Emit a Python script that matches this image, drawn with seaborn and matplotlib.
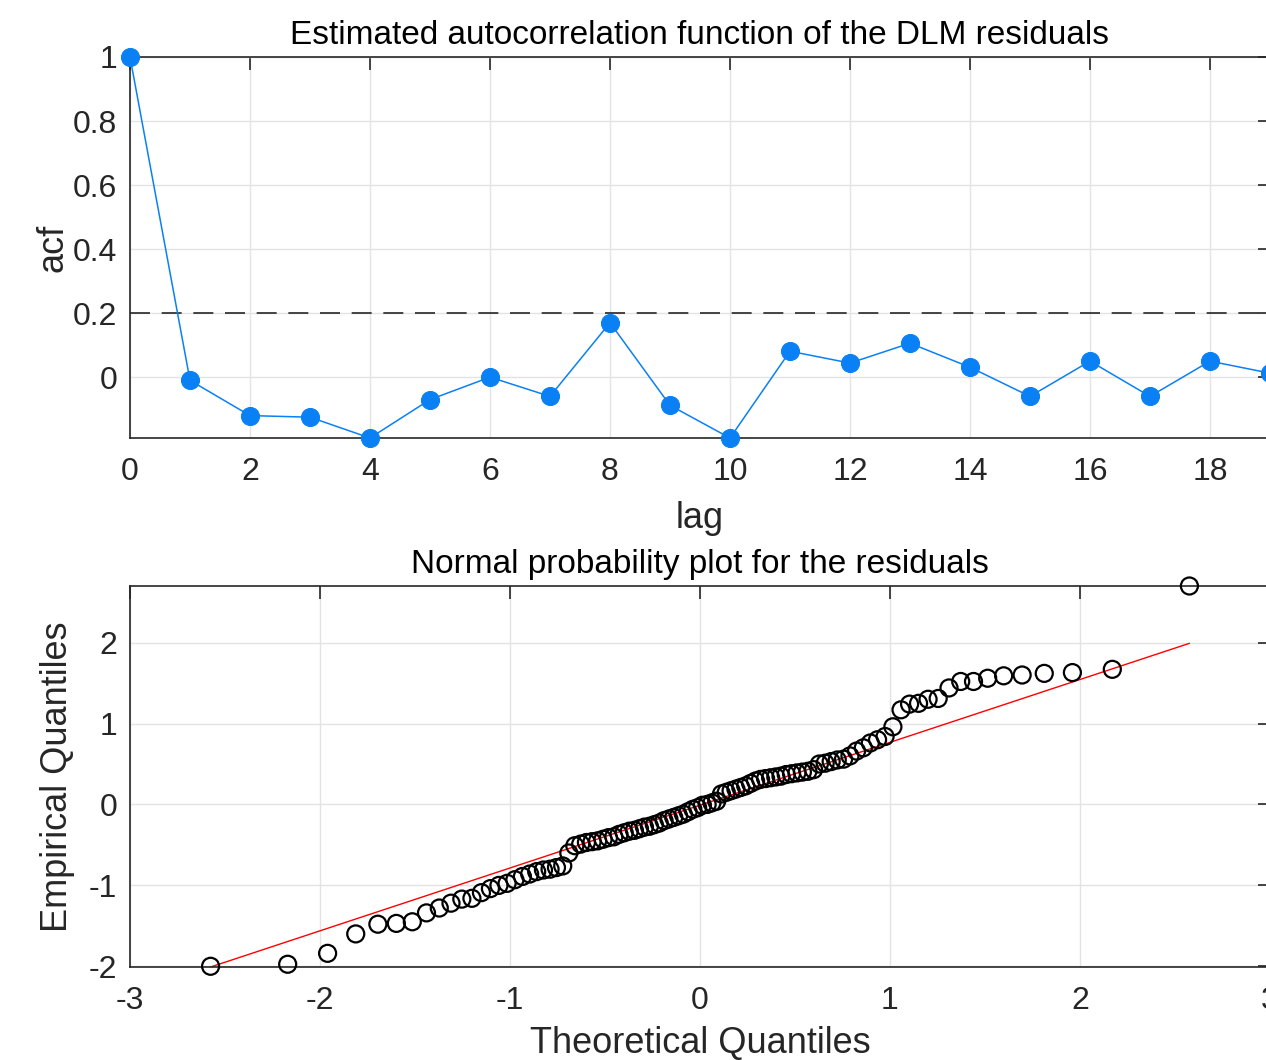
import numpy as np
import pandas as pd
import matplotlib
matplotlib.use("Agg")
import matplotlib.pyplot as plt
import seaborn as sns
from statistics import NormalDist

# ---------------- data ----------------
lags = list(range(20))
acf_values = [1.0, -0.01, -0.12, -0.125, -0.19, -0.07, 0.0, -0.06, 0.17, -0.088,
              -0.19, 0.081, 0.044, 0.106, 0.031, -0.06, 0.05, -0.06, 0.05, 0.0125]
conf_level = 0.2

residuals = [
    -2.00, -1.975, -1.84, -1.60, -1.48, -1.47, -1.45, -1.34, -1.28, -1.22,
    -1.17, -1.16, -1.09, -1.04, -1.00, -0.975, -0.93, -0.89, -0.86, -0.83,
    -0.81, -0.80, -0.78, -0.76, -0.60, -0.51, -0.49, -0.47, -0.46, -0.45,
    -0.43, -0.41, -0.40, -0.37, -0.35, -0.33, -0.32, -0.30, -0.28, -0.27,
    -0.25, -0.23, -0.20, -0.18, -0.16, -0.14, -0.12, -0.09, -0.06, -0.04,
    -0.01, 0.00, 0.02, 0.04, 0.13, 0.15, 0.17, 0.19, 0.21, 0.23,
    0.26, 0.29, 0.31, 0.32, 0.33, 0.34, 0.35, 0.37, 0.38, 0.39,
    0.40, 0.41, 0.43, 0.50, 0.51, 0.53, 0.55, 0.56, 0.60, 0.66,
    0.70, 0.76, 0.80, 0.84, 0.96, 1.17, 1.24, 1.25, 1.31, 1.30,
    1.44, 1.52, 1.52, 1.56, 1.59, 1.60, 1.62, 1.63, 1.67, 2.70,
]

acf_xticks = list(range(0, 20, 2))
acf_yticks = [0, 0.2, 0.4, 0.6, 0.8, 1]
acf_yticklabels = ["0", "0.2", "0.4", "0.6", "0.8", "1"]
qq_xticks = [-3, -2, -1, 0, 1, 2, 3]
qq_yticks = [-2, -1, 0, 1, 2]

# ---------------- derived (QQ) ----------------
n = len(residuals)
emp = np.sort(np.array(residuals))
nd = NormalDist()
theo = np.array([nd.inv_cdf((i - 0.5) / n) for i in range(1, n + 1)])
# reference line through the first and third quartiles (as MATLAB qqplot)
q1d, q3d = np.percentile(emp, [25, 75])
q1t, q3t = nd.inv_cdf(0.25), nd.inv_cdf(0.75)
slope = (q3d - q1d) / (q3t - q1t)
icpt = q1d - slope * q1t
line_x = np.array([theo.min(), theo.max()])
line_y = icpt + slope * line_x

acf_df = pd.DataFrame({"lag": lags, "acf": acf_values})
qq_df = pd.DataFrame({"theo": theo, "emp": emp})
line_df = pd.DataFrame({"x": line_x, "y": line_y})

# ---------------- style ----------------
sns.set_theme(style="white")
plt.rcParams["font.family"] = ["Liberation Sans", "DejaVu Sans"]
plt.rcParams["axes.unicode_minus"] = False
axis_col = "#262626"
grid_col = "#e3e3e3"

fig = plt.figure(figsize=(12.66, 10.6), dpi=100)
W, H = 1266, 1060
ax1 = fig.add_axes([130 / W, 1 - 438 / H, 1140 / W, (438 - 57) / H])
ax2 = fig.add_axes([130 / W, 1 - 967 / H, 1140 / W, (967 - 586) / H])

def style_axes(ax):
    ax.set_axisbelow(True)
    ax.grid(True, color=grid_col, linewidth=1.0)
    for s in ax.spines.values():
        s.set_color(axis_col)
        s.set_linewidth(1.2)
        s.set_visible(True)
    ax.tick_params(direction="in", length=9, width=1.2, color=axis_col,
                   labelcolor=axis_col, labelsize=23, top=True, right=True,
                   pad=9)
    ax.tick_params(axis="x", pad=14)

# ---------------- ACF ----------------
blue = "#0a80f5"
sns.lineplot(data=acf_df, x="lag", y="acf", ax=ax1, color=blue, linewidth=1.1,
             marker="o", markersize=13, markeredgecolor=blue,
             markerfacecolor=blue, clip_on=False, zorder=3)
ax1.axhline(conf_level, color=axis_col, linestyle=(0, (12, 7)), linewidth=1.2,
            zorder=2)
ax1.set_xlim(0, 19)
ax1.set_ylim(min(acf_values), 1)
ax1.set_xticks(acf_xticks)
ax1.set_yticks(acf_yticks)
ax1.set_yticklabels(acf_yticklabels)
style_axes(ax1)
ax1.set_xlabel("lag", fontsize=26, color=axis_col, labelpad=10)
ax1.set_ylabel("acf", fontsize=26, color=axis_col, labelpad=2)
ax1.set_title("Estimated autocorrelation function of the DLM residuals",
              fontsize=24, color="black", pad=9)

# ---------------- QQ ----------------
sns.scatterplot(data=qq_df, x="theo", y="emp", ax=ax2, marker="o", s=150,
                facecolor="none", edgecolor="black", linewidth=1.6,
                clip_on=False, zorder=3)
sns.lineplot(data=line_df, x="x", y="y", ax=ax2, color="red", linewidth=1.0,
             zorder=2)
ax2.set_xlim(-3, 3)
ax2.set_ylim(min(emp.min(), line_y.min()), max(emp.max(), line_y.max()))
ax2.set_xticks(qq_xticks)
ax2.set_yticks(qq_yticks)
style_axes(ax2)
ax2.set_xlabel("Theoretical Quantiles", fontsize=26, color=axis_col, labelpad=7)
ax2.set_ylabel("Empirical Quantiles", fontsize=26, color=axis_col, labelpad=10)
ax2.set_title("Normal probability plot for the residuals", fontsize=24,
              color="black", pad=9)

fig.savefig("out.png", dpi=100)
